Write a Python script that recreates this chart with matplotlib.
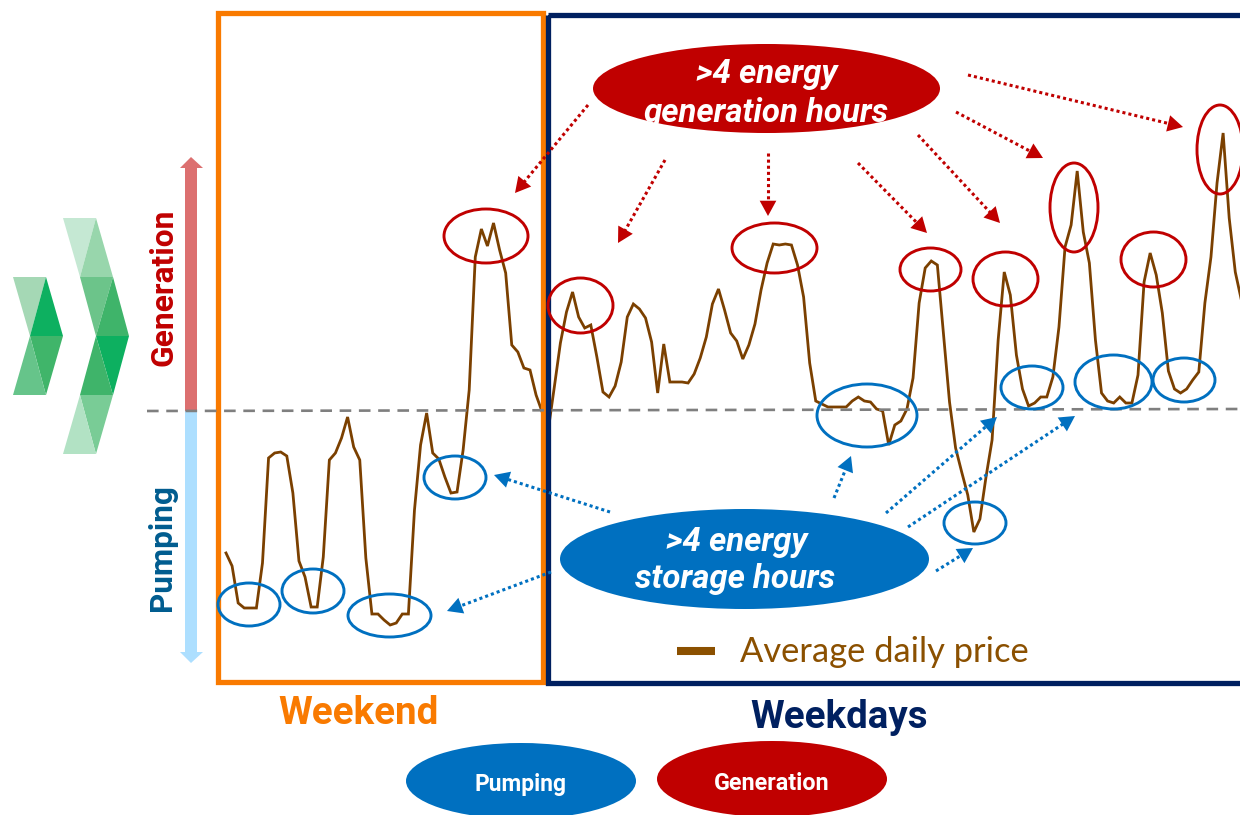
import matplotlib
matplotlib.use("Agg")
import matplotlib.pyplot as plt
import numpy as np
from matplotlib.patches import Ellipse, Rectangle

# average price per hour over one week, zero is the dashed line (arbitrary units)
price = [
    -143, -156, -193, -198, -198, -198, -153, -48, -43, -42, -46, -83,
    -151, -167, -197, -197, -147, -50, -43, -28, -7, -37, -50, -148,
    -204, -204, -210, -215, -213, -204, -204, -100, -35, -3, -43, -49,
    -67, -83, -82, -40, 20, 153, 181, 164, 187, 160, 137, 65,
    58, 42, 40, 15, -2, -20, 23, 67, 98, 118, 93, 82,
    85, 53, 18, 13, 24, 48, 93, 106, 101, 92, 68, 17,
    66, 28, 28, 28, 27, 36, 52, 73, 106, 121, 100, 77,
    69, 51, 65, 86, 120, 147, 166, 165, 166, 165, 145, 113,
    47, 9, 6, 3, 3, 3, 3, 9, 13, 9, 8, 1,
    -1, -35, -15, -11, 1, 32, 107, 142, 149, 145, 77, 8,
    -38, -62, -85, -122, -109, -67, -30, 70, 138, 115, 55, 21,
    4, 7, 13, 13, 33, 83, 163, 185, 239, 178, 147, 70,
    17, 9, 7, 13, 7, 7, 35, 128, 157, 135, 97, 39,
    21, 17, 21, 30, 38, 107, 153, 227, 277, 192, 138, 110,
]
hours = np.arange(len(price))

# left, right, top, bottom of the rings
red_rings = [
    (444, 528, 209, 263), (548, 613, 278, 333), (732, 817, 223, 273),
    (900, 961, 248, 291), (973, 1038, 252, 306), (1050, 1098, 163, 252),
    (1121, 1186, 232, 287), (1197, 1243, 105, 194),
]
blue_rings = [
    (218, 280, 583, 626), (282, 344, 569, 613), (348, 431, 594, 637),
    (424, 486, 456, 499), (817, 917, 384, 447), (944, 1006, 502, 544),
    (1001, 1063, 366, 409), (1075, 1152, 355, 409), (1153, 1215, 358, 402),
]

red_arrows = [
    (588, 105, 515, 193), (665, 160, 618, 243), (768, 153, 768, 216),
    (858, 163, 927, 233), (918, 135, 1000, 223), (956, 112, 1043, 158),
    (968, 75, 1183, 127),
]
blue_arrows = [
    (610, 512, 494, 475), (551, 572, 447, 611), (834, 498, 851, 456),
    (886, 513, 997, 417), (908, 527, 1075, 416), (936, 571, 973, 548),
]

chevrons = [
    ((13, 277), (46, 277), (30, 336), "#A5D8B5"),
    ((46, 277), (30, 336), (63, 336), "#0DB060"),
    ((30, 336), (63, 336), (46, 395), "#40B56A"),
    ((30, 336), (46, 395), (13, 395), "#66C48A"),
    ((63, 218), (96, 218), (80, 277), "#C5E8D3"),
    ((96, 218), (80, 277), (113, 277), "#98D6AC"),
    ((80, 277), (113, 277), (96, 336), "#6CC48A"),
    ((113, 277), (96, 336), (129, 336), "#3FB46A"),
    ((96, 336), (129, 336), (113, 395), "#0DB060"),
    ((96, 336), (113, 395), (80, 395), "#3FB46A"),
    ((80, 395), (113, 395), (96, 454), "#79CC96"),
    ((80, 395), (96, 454), (63, 454), "#B2E2C4"),
]

RED = "#C00000"
BLUE = "#0070C0"
ORANGE = "#F97A00"
NAVY = "#002060"
FONT = "Roboto"

fig = plt.figure(figsize=(12.4, 8.15), dpi=100)

# price axis lies under the drawing layer, one hour is 6.08 px, one unit 1 px
ax_price = fig.add_axes([0, 0, 1, 1], zorder=1)
ax_price.set_xlim(-226 / 6.08, (1240 - 226) / 6.08)
ax_price.set_ylim(-405, 410)
ax_price.axis("off")
ax_price.plot(hours, price, color="#7B4000", linewidth=2.0, solid_joinstyle="miter")

# drawing layer in pixels of the picture
ax = fig.add_axes([0, 0, 1, 1], zorder=2)
ax.set_xlim(0, 1240)
ax.set_ylim(815, 0)
ax.axis("off")
ax.patch.set_alpha(0)

for a, b, c, color in chevrons:
    ax.fill([a[0], b[0], c[0]], [a[1], b[1], c[1]], color=color, linewidth=0)

# generation / pumping scale
ax.fill([185, 185, 180, 191, 203, 197, 197], [411, 168, 168, 157, 168, 168, 411], color="#DC7070", linewidth=0)
ax.fill([185, 185, 180, 191, 203, 197, 197], [411, 652, 652, 663, 652, 652, 411], color="#ADDFFF", linewidth=0)

ax.add_patch(Rectangle((218, 13), 325, 669, fill=False, edgecolor=ORANGE, linewidth=3.8, zorder=3))
ax.add_patch(Rectangle((548, 15), 760, 668, fill=False, edgecolor=NAVY, linewidth=3.8, zorder=3.1))
ax.plot([147, 1240], [411, 409], color="#7F7F7F", linewidth=1.9, linestyle=(0, (4.4, 2.9)), zorder=3.2)


def draw_rings(rings, color):
    for left, right, top, bottom in rings:
        ax.add_patch(Ellipse(((left + right) / 2, (top + bottom) / 2), right - left, bottom - top,
                             fill=False, edgecolor=color, linewidth=2.1, zorder=4))


def draw_arrows(arrows, color):
    for x0, y0, x1, y1 in arrows:
        length = np.hypot(x1 - x0, y1 - y0)
        bx = x1 - (x1 - x0) / length * 14
        by = y1 - (y1 - y0) / length * 14
        ax.plot([x0, bx], [y0, by], color=color, linewidth=2.2, linestyle=(0, (1, 1)), zorder=4)
        ax.annotate("", xy=(x1, y1), xytext=(bx, by), zorder=4,
                    arrowprops=dict(arrowstyle="-|>,head_length=1.1,head_width=0.6", mutation_scale=10,
                                    color=color, linewidth=0, shrinkA=0, shrinkB=0))


draw_rings(red_rings, RED)
draw_rings(blue_rings, BLUE)
draw_arrows(red_arrows, RED)
draw_arrows(blue_arrows, BLUE)

ax.add_patch(Ellipse((766.5, 88.5), 347, 89, color=RED, linewidth=0, zorder=5))
ax.add_patch(Ellipse((744.5, 559), 369, 100, color=BLUE, linewidth=0, zorder=5))
ax.add_patch(Ellipse((521, 781), 230, 76, color=BLUE, linewidth=0, zorder=5))
ax.add_patch(Ellipse((772, 779), 230, 76, color=RED, linewidth=0, zorder=5))

bold_italic = dict(family=FONT, fontweight="bold", fontstyle="italic", color="white",
                   fontsize=23.8, ha="center", va="center", zorder=6)
ax.text(767, 74, ">4 energy", **bold_italic)
ax.text(766, 112.6, "generation hours", **bold_italic)
ax.text(737, 542, ">4 energy", **bold_italic)
ax.text(735, 579, "storage hours", **bold_italic)

ax.text(163, 287, "Generation", family=FONT, fontweight="bold", color=RED, fontsize=22.9,
        rotation=90, ha="center", va="center")
ax.text(162, 548, "Pumping", family=FONT, fontweight="bold", color="#005C8F", fontsize=22.7,
        rotation=90, ha="center", va="center")

ax.text(359, 713, "Weekend", family=FONT, fontweight="bold", color=ORANGE, fontsize=27.8, ha="center", va="center")
ax.text(839, 717, "Weekdays", family=FONT, fontweight="bold", color=NAVY, fontsize=27.7, ha="center", va="center")
ax.text(521, 784, "Pumping", family=FONT, fontweight="bold", color="white", fontsize=16.4, ha="center", va="center", zorder=6)
ax.text(772, 783, "Generation", family=FONT, fontweight="bold", color="white", fontsize=16.8, ha="center", va="center", zorder=6)

ax.plot([677, 715], [651, 651], color="#8B5000", linewidth=5.8, solid_capstyle="butt")
ax.text(740, 652, "Average daily price", family="Lato", color="#8B5000", fontsize=24.8, ha="left", va="center")

fig.savefig("out.png", dpi=100)
